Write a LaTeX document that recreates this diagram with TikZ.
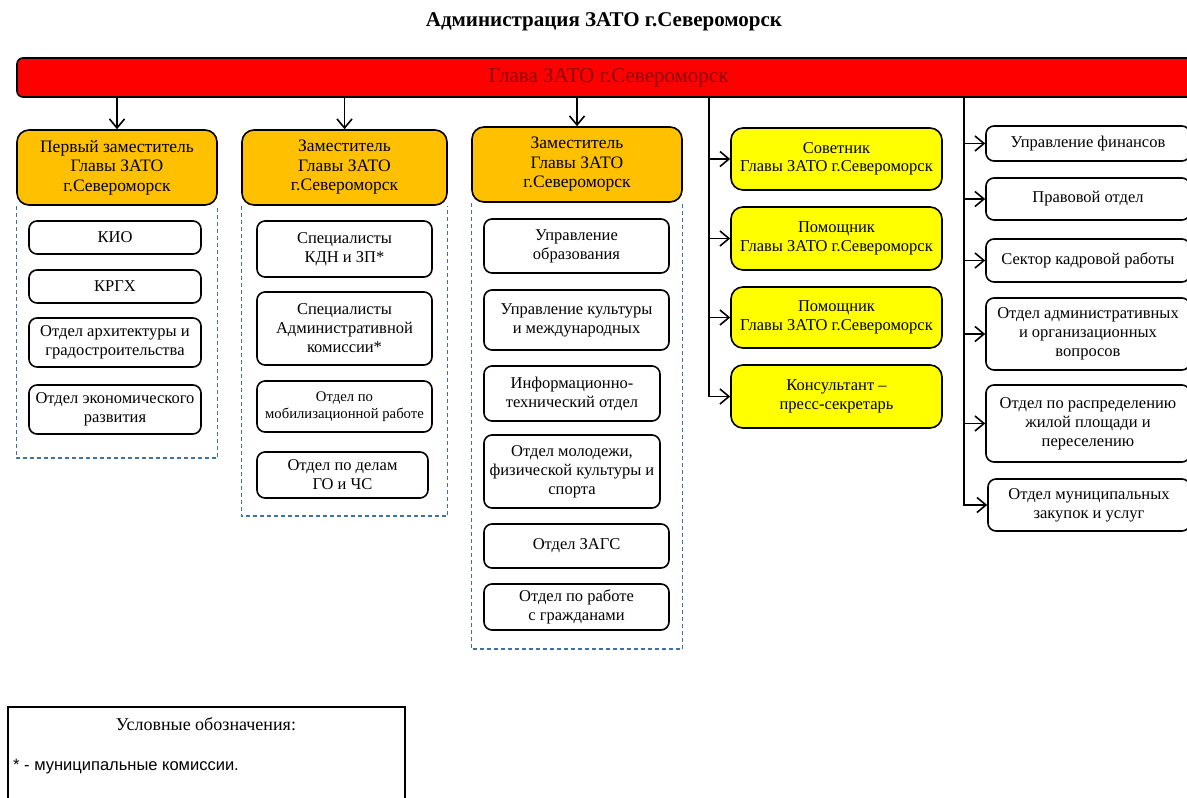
\documentclass[tikz,border=0pt]{standalone}
\usepackage{fontspec}
\setmainfont{Liberation Serif}
\newfontfamily\legendsans{Liberation Sans}
\usetikzlibrary{arrows.meta}
\definecolor{headred}{RGB}{255,0,0}
\definecolor{headtext}{RGB}{140,10,10}
\definecolor{deporange}{RGB}{255,192,0}
\definecolor{advyellow}{RGB}{255,255,0}
\definecolor{grpblue}{RGB}{65,113,156}
\tikzset{
	head/.style={draw=black, fill=headred, line width=1.6pt, rounded corners=6pt, text=headtext, font=\fontsize{21}{23}\selectfont},
	deputy/.style={draw=black, fill=deporange, line width=1.6pt, rounded corners=12pt, align=center, font=\fontsize{17.5}{19.5}\selectfont},
	adviser/.style={draw=black, fill=advyellow, line width=1.6pt, rounded corners=12pt, align=center, font=\fontsize{16.5}{18.5}\selectfont},
	unit/.style={draw=black, fill=white, line width=1.6pt, rounded corners=8pt, align=center, font=\fontsize{16.5}{19}\selectfont},
	grp/.style={draw=grpblue, line width=1.3pt, dash pattern=on 4pt off 3pt},
	arr/.style={-{Straight Barb[length=9pt,width=15pt,line width=1.6pt]}, line width=1.6pt},
}
\begin{document}
\begin{tikzpicture}[x=1pt,y=-1pt]
	\useasboundingbox (0,0) rectangle (1187,798);
	\clip (0,0) rectangle (1187,798);
	\node[font=\bfseries\fontsize{21}{24}\selectfont] (title) at (604,22) {Администрация ЗАТО г.Североморск};
	\node[head, minimum width=1183pt, minimum height=39pt] (head) at (608.5,77.5) {Глава ЗАТО г.Североморск};

	% deputies
	\node[deputy, minimum width=200pt, minimum height=75pt] (o1) at (117,167.5) {Первый заместитель\\Главы ЗАТО\\г.Североморск};
	\node[deputy, minimum width=205pt, minimum height=75pt] (o2) at (344.5,167.5) {Заместитель\\Главы ЗАТО\\г.Североморск};
	\node[deputy, minimum width=210pt, minimum height=75pt] (o3) at (577,164.5) {Заместитель\\Главы ЗАТО\\г.Североморск};
	\draw[arr] (head.south -| o1.north) -- (o1.north);
	\draw[arr] (head.south -| o2.north) -- (o2.north);
	\draw[arr] (head.south -| o3.north) -- (o3.north);

	% first column
	\node[unit, minimum width=172pt, minimum height=33pt] (kio) at (115,237.5) {КИО};
	\node[unit, minimum width=172pt, minimum height=33pt] (krgh) at (115,286.5) {КРГХ};
	\node[unit, minimum width=172pt, minimum height=49pt] (arch) at (115,342.5) {Отдел архитектуры и\\градостроительства};
	\node[unit, minimum width=172pt, minimum height=49pt] (econ) at (115,409.5) {Отдел экономического\\развития};
	\coordinate (g1) at (117,458);
	\draw[grp] (o1.south west) |- (g1) -| (o1.south east);

	% second column
	\node[unit, minimum width=175pt, minimum height=56pt] (kdn) at (344.5,249) {Специалисты\\КДН и ЗП*};
	\node[unit, minimum width=175pt, minimum height=73pt] (adm) at (344.5,328.5) {Специалисты\\Административной\\комиссии*};
	\node[unit, minimum width=175pt, minimum height=51pt, font=\fontsize{14.7}{17}\selectfont] (mob) at (344.5,406.5) {Отдел по\\мобилизационной работе};
	\node[unit, minimum width=171pt, minimum height=46pt] (gochs) at (342.5,475) {Отдел по делам\\ГО и ЧС};
	\coordinate (g2) at (344,516);
	\draw[grp] (o2.south west) |- (g2) -| (o2.south east);

	% third column
	\node[unit, minimum width=185pt, minimum height=54pt] (edu) at (576.5,246) {Управление\\образования};
	\node[unit, minimum width=185pt, minimum height=60pt] (cult) at (576.5,320) {Управление культуры\\и международных};
	\node[unit, minimum width=176pt, minimum height=55pt] (info) at (572,393.5) {Информационно-\\технический отдел};
	\node[unit, minimum width=176pt, minimum height=73pt] (youth) at (572,471.5) {Отдел молодежи,\\физической культуры и\\спорта};
	\node[unit, minimum width=185pt, minimum height=44pt] (zags) at (576.5,546) {Отдел ЗАГС};
	\node[unit, minimum width=185pt, minimum height=46pt] (citz) at (576.5,607) {Отдел по работе\\с гражданами};
	\coordinate (g3) at (577,649);
	\draw[grp] (o3.south west) |- (g3) -| (o3.south east);

	% advisers
	\node[adviser, minimum width=211pt, minimum height=62pt] (y1) at (836.5,159) {Советник\\Главы ЗАТО г.Североморск};
	\node[adviser, minimum width=211pt, minimum height=63pt] (y2) at (836.5,238.5) {Помощник\\Главы ЗАТО г.Североморск};
	\node[adviser, minimum width=211pt, minimum height=61pt] (y3) at (836.5,317.5) {Помощник\\Главы ЗАТО г.Североморск};
	\node[adviser, minimum width=211pt, minimum height=63pt] (y4) at (836.5,396.5) {Консультант --\\пресс-секретарь};
	\coordinate (ta) at (709,97);
	\draw[arr] (ta) |- (y4.west);
	\foreach \n in {y1,y2,y3}
		\draw[arr] (ta |- \n.west) -- (\n.west);

	% departments
	\node[unit, minimum width=204pt, minimum height=35pt] (fin) at (1088,143.5) {Управление финансов};
	\node[unit, minimum width=204pt, minimum height=42pt] (law) at (1088,199) {Правовой отдел};
	\node[unit, minimum width=204pt, minimum height=43pt] (staff) at (1088,260.5) {Сектор кадровой работы};
	\node[unit, minimum width=204pt, minimum height=72pt] (org) at (1088,334) {Отдел административных\\и организационных\\вопросов};
	\node[unit, minimum width=204pt, minimum height=77pt] (house) at (1088,423.5) {Отдел по распределению\\жилой площади и\\переселению};
	\node[unit, minimum width=202pt, minimum height=52pt] (buy) at (1089,505) {Отдел муниципальных\\закупок и услуг};
	\coordinate (tb) at (964,97);
	\draw[arr] (tb) |- (buy.west);
	\foreach \n in {fin,law,staff,org,house}
		\draw[arr] (tb |- \n.west) -- (\n.west);

	% legend
	\draw[line width=1.2pt] (8,820) -- (8,707) -- (405,707) -- (405,820);
	\node[font=\fontsize{18}{20}\selectfont] (legtitle) at (206,724) {Условные обозначения:};
	\node[anchor=west, inner sep=0pt, font=\legendsans\fontsize{16.5}{19}\selectfont] (legstar) at (13,767) {* - муниципальные комиссии.};
\end{tikzpicture}
\end{document}
